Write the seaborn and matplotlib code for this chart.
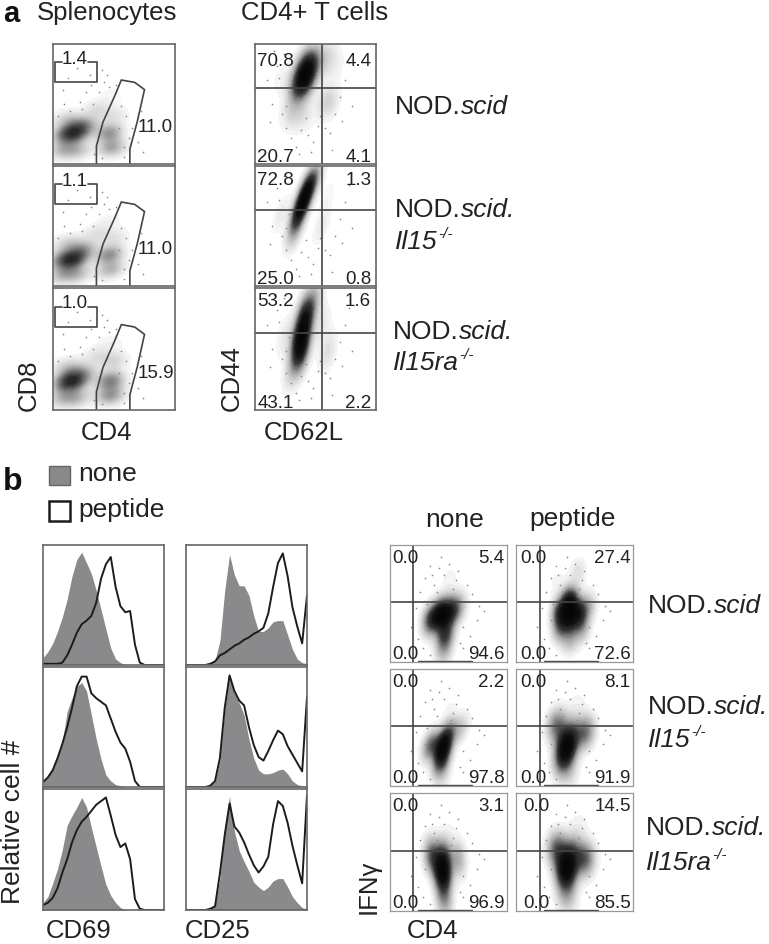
"""Flow cytometry figure: dot plots drawn as weighted KDEs, plus histograms."""
import matplotlib
matplotlib.use('Agg')
import matplotlib.pyplot as plt
from matplotlib.patches import Rectangle
import seaborn as sns

W, H = 769, 945

# histogram channel positions (percent of the panel width)
HIST_X = [0, 4, 8, 12, 16, 20, 24, 28, 32, 36, 40, 44, 48, 52, 56, 60, 64, 68, 72, 76, 80, 84, 88, 92, 96, 100]

CD69_NONE_1 = [6, 11, 18, 28, 40, 55, 74, 88, 94, 85, 76, 62, 46, 30, 14, 5, 2, 0, 0, 0, 0, 0, 0, 0, 0, 0]
CD69_PEP_1 = [1, 1, 1, 1, 2, 8, 17, 27, 34, 37, 41, 52, 72, 84, 90, 65, 49, 44, 45, 17, 2, 0, 0, 0, 0, 0]
CD69_NONE_2 = [4, 8, 15, 26, 38, 63, 74, 84, 87, 80, 60, 40, 23, 10, 5, 2, 1, 0, 0, 0, 0, 0, 0, 0, 0, 0]
CD69_PEP_2 = [4, 8, 14, 24, 36, 50, 66, 84, 92, 92, 78, 74, 71, 68, 57, 46, 37, 32, 21, 5, 0, 0, 0, 0, 0, 0]
CD69_NONE_3 = [6, 11, 22, 34, 50, 70, 78, 85, 93, 85, 68, 52, 36, 21, 12, 6, 2, 0, 0, 0, 0, 0, 0, 0, 0, 0]
CD69_PEP_3 = [4, 6, 10, 18, 31, 42, 56, 66, 73, 77, 82, 87, 90, 93, 78, 62, 52, 55, 42, 9, 1, 0, 0, 0, 0, 0]

CD25_NONE_1 = [0, 0, 0, 0, 0, 1, 4, 20, 62, 92, 75, 66, 66, 58, 41, 28, 28, 31, 36, 37, 37, 25, 13, 5, 2, 1]
CD25_PEP_1 = [0, 0, 0, 0, 0, 1, 3, 8, 10, 13, 16, 18, 21, 23, 26, 28, 31, 43, 65, 85, 93, 74, 48, 32, 18, 58]
CD25_NONE_2 = [0, 0, 0, 0, 0, 1, 5, 22, 65, 93, 78, 70, 60, 40, 24, 14, 11, 11, 12, 14, 15, 11, 5, 2, 1, 0]
CD25_PEP_2 = [0, 0, 0, 0, 0, 1, 5, 24, 66, 93, 80, 72, 68, 50, 35, 25, 22, 30, 39, 47, 44, 34, 27, 20, 13, 75]
CD25_NONE_3 = [0, 0, 0, 0, 0, 1, 4, 26, 68, 94, 65, 49, 40, 32, 23, 19, 16, 19, 24, 26, 26, 19, 11, 6, 2, 1]
CD25_PEP_3 = [0, 0, 0, 0, 0, 1, 3, 30, 62, 88, 69, 64, 56, 46, 37, 31, 36, 44, 71, 90, 86, 72, 53, 37, 22, 95]

# dot plot clouds: (x, y, weight) in percent of the panel
SPLEEN_1 = [(10, 24, 3), (18, 26, 5), (26, 32, 3), (8, 12, 2.2), (20, 12, 2), (14, 36, 1.6), (36, 45, 1.2), (48, 57, .4), (46, 26, 3.4), (48, 14, 3), (50, 40, 1), (18, 76, .12), (6, 38, .4)]
SPLEEN_2 = [(8, 22, 3), (17, 22, 5), (25, 30, 2.5), (8, 10, 2.2), (20, 10, 2), (14, 34, 1.6), (36, 44, 1), (47, 55, .4), (46, 26, 3.4), (47, 14, 2.4), (50, 40, 1), (18, 76, .1), (6, 36, .4)]
SPLEEN_3 = [(10, 22, 3), (17, 24, 4.5), (25, 30, 2), (8, 10, 2), (20, 10, 2), (14, 34, 1.6), (36, 44, 1), (47, 55, .5), (47, 24, 3.8), (47, 12, 3.2), (50, 40, 1.4), (18, 76, .08), (6, 36, .4)]

CD44_1 = [(41, 73, 5), (45, 84, 4), (37, 64, 3), (31, 44, 1), (60, 52, 1.2), (58, 89, .9), (65, 82, .4), (40, 40, .6), (22, 70, .3)]
CD44_2 = [(40, 71, 5), (45, 85, 3.5), (35, 57, 3), (51, 90, .6), (33, 44, 1), (55, 50, .4), (22, 60, .4), (60, 75, .2)]
CD44_3 = [(42, 78, 4), (38, 59, 5), (37, 45, 3), (49, 92, 1), (60, 48, .7), (30, 30, .6), (25, 60, .5), (55, 70, .5)]

NONE_1 = [(44, 41, 5), (35, 36, 3), (53, 44, 3), (47, 23, 3), (46, 8, 1), (60, 48, .8), (51, 71, .3)]
PEPTIDE_1 = [(46, 52, 4), (38, 42, 3), (54, 42, 3), (38, 28, 1.5), (56, 28, 1.2), (62, 48, 1), (53, 77, .6), (35, 68, .25), (46, 18, 1), (46, 36, 3)]
NONE_2 = [(45, 33, 5), (44, 20, 2.5), (60, 49, 1), (35, 35, 2.5), (45, 6, .5), (51, 69, .15), (50, 46, 2)]
PEPTIDE_2 = [(43, 33, 5), (35, 52, 2.5), (59, 46, 2.5), (40, 20, 2), (46, 9, .6), (52, 69, .3), (47, 45, 2)]
NONE_3 = [(45, 33, 5), (36, 47, 2.5), (58, 44, 1.5), (46, 13, 1.5), (51, 70, .14), (46, 48, 2), (47, 4, .5)]
PEPTIDE_3 = [(43, 36, 5), (35, 53, 2.5), (59, 44, 2.5), (43, 19, 1.5), (44.5, 5, .5), (54, 72, .3), (48, 50, 2)]

SPLEEN_STRAY_X = [4, 9, 14, 22, 27, 31, 33, 38, 42, 44, 52, 56, 60, 62, 65, 70, 74, 30, 40, 46, 54, 58, 24, 12, 20, 34, 40, 58, 72, 8]
SPLEEN_STRAY_Y = [40, 50, 44, 52, 60, 66, 50, 60, 68, 74, 66, 48, 40, 22, 30, 18, 10, 74, 78, 64, 30, 14, 46, 72, 80, 8, 5, 6, 44, 62]
CD44_STRAY_X = [10, 14, 18, 22, 26, 28, 30, 34, 38, 44, 48, 52, 58, 62, 66, 70, 74, 78, 12, 20, 26, 36, 46, 64, 72, 80, 16, 24, 54, 42]
CD44_STRAY_Y = [70, 50, 82, 42, 30, 60, 22, 14, 28, 24, 18, 32, 30, 26, 42, 56, 70, 84, 35, 72, 48, 8, 10, 12, 36, 48, 94, 92, 40, 38]
DOT_STRAY_X = [18, 22, 24, 26, 28, 30, 32, 34, 38, 42, 46, 50, 54, 58, 60, 62, 66, 68, 70, 74, 76, 80, 34, 40, 44, 52, 56, 62, 30, 36]
DOT_STRAY_Y = [30, 46, 20, 60, 12, 72, 50, 6, 66, 80, 74, 84, 62, 78, 16, 30, 66, 22, 58, 36, 48, 44, 82, 60, 90, 56, 70, 12, 36, 74]

SPLEEN_TOP = ['1.4', '1.1', '1.0']
SPLEEN_GATE = ['11.0', '11.0', '15.9']
CD44_LABELS = [['70.8', '4.4', '20.7', '4.1'], ['72.8', '1.3', '25.0', '0.8'], ['53.2', '1.6', '43.1', '2.2']]
NONE_LABELS = [['0.0', '5.4', '0.0', '94.6'], ['0.0', '2.2', '0.0', '97.8'], ['0.0', '3.1', '0.0', '96.9']]
PEPTIDE_LABELS = [['0.0', '27.4', '0.0', '72.6'], ['0.0', '8.1', '0.0', '91.9'], ['0.0', '14.5', '0.0', '85.5']]

BOX_X = [7, 1.4, 1.4, 36, 36, 29]
BOX_Y = [84.7, 84.7, 68, 68, 84.7, 84.7]
GATE_X = [35.6, 35.6, 41, 50.7, 56, 67, 75, 69, 63, 63]
GATE_Y = [0, 15, 35, 57, 70, 68, 62, 35, 12.5, 0]

sns.set_theme(style='white')
plt.rcParams['font.family'] = ['Liberation Sans', 'DejaVu Sans']

TEXT = '#222222'
LINE = '#444444'
dark_cmap = sns.blend_palette(['#f8f8f8', '#a6a6a6', '#3a3a3a', '#101010', '#050505'], as_cmap=True)
soft_cmap = sns.blend_palette(['#f8f8f8', '#c4c4c4', '#858585', '#4c4c4c', '#222222'], as_cmap=True)

fig = plt.figure(figsize=(W / 100, H / 100), dpi=100, facecolor='white')


def panel(left, top, right, bottom, edge='#666666', lw=1.2):
    ax = fig.add_axes([left / W, 1 - bottom / H, (right - left) / W, (bottom - top) / H])
    ax.set_xlim(0, 100)
    ax.set_ylim(0, 100)
    ax.set_xticks([])
    ax.set_yticks([])
    for spine in ax.spines.values():
        spine.set_visible(True)
        spine.set_color(edge)
        spine.set_linewidth(lw)
    return ax


def label(x, y, s, size=18.5, **kw):
    kw.setdefault('ha', 'left')
    kw.setdefault('va', 'center')
    fig.text(x / W, 1 - y / H, s, fontsize=size, color=TEXT, **kw)


def strain(x, y, name=None, sup='-/-', wide=0):
    # first line "NOD.scid" or second line like "Il15" with a small superscript
    if name is None:
        label(x, y, 'NOD.', size=19)
        label(x + 66, y, 'scid' + sup, size=19, style='italic')
    else:
        label(x, y, name, size=19, style='italic')
        label(x + wide, y - 8, sup, size=11, style='italic')


def cloud(ax, points, stray_x, stray_y, bw, cmap):
    xs = [p[0] for p in points]
    ys = [p[1] for p in points]
    ws = [p[2] for p in points]
    sns.kdeplot(x=xs, y=ys, weights=ws, fill=True, levels=36, thresh=0.025, cmap=cmap,
                bw_adjust=bw, gridsize=140, clip=((0, 100), (0, 100)), antialiased=False, ax=ax)
    sns.scatterplot(x=stray_x, y=stray_y, s=1.5, color='#8a8a8a', linewidth=0, ax=ax)
    ax.set_xlim(0, 100)
    ax.set_ylim(0, 100)
    ax.set_xlabel('')
    ax.set_ylabel('')


def quadrants(ax, vx, hy, texts, left=2, right=96, top=88, low=6):
    ax.axvline(vx, color=LINE, lw=1.2)
    ax.axhline(hy, color=LINE, lw=1.2)
    ax.text(left, top, texts[0], ha='left', va='center', fontsize=13.5, color=TEXT)
    ax.text(right, top, texts[1], ha='right', va='center', fontsize=13.5, color=TEXT)
    ax.text(left, low, texts[2], ha='left', va='center', fontsize=13.5, color=TEXT)
    ax.text(right, low, texts[3], ha='right', va='center', fontsize=13.5, color=TEXT)


# panel a, left column
rows_a = [(45, 165), (167, 287), (289, 411)]
spleen = [SPLEEN_1, SPLEEN_2, SPLEEN_3]
for i, (top, bottom) in enumerate(rows_a):
    ax = panel(53, top, 175, bottom)
    cloud(ax, spleen[i], SPLEEN_STRAY_X, SPLEEN_STRAY_Y, 0.68, soft_cmap)
    sns.lineplot(x=BOX_X, y=BOX_Y, sort=False, estimator=None, color=LINE, lw=1.2, ax=ax)
    sns.lineplot(x=GATE_X, y=GATE_Y, sort=False, estimator=None, color=LINE, lw=1.2, ax=ax)
    ax.text(18, 88, SPLEEN_TOP[i], ha='center', va='center', fontsize=13.5, color=TEXT)
    ax.text(84, 31, SPLEEN_GATE[i], ha='center', va='center', fontsize=13.5, color=TEXT)
    ax.set_xlim(0, 100)
    ax.set_ylim(0, 100)

# panel a, right column
cd44 = [CD44_1, CD44_2, CD44_3]
for i, (top, bottom) in enumerate(rows_a):
    ax = panel(255, top, 376, bottom)
    cloud(ax, cd44[i], CD44_STRAY_X, CD44_STRAY_Y, 0.85, dark_cmap)
    quadrants(ax, 55.7, 63, CD44_LABELS[i], top=[86, 89, 90][i])

# panel b, histograms
rows_h = [(546, 666), (668, 788), (790, 911)]
hist_none = [CD69_NONE_1, CD69_NONE_2, CD69_NONE_3, CD25_NONE_1, CD25_NONE_2, CD25_NONE_3]
hist_pep = [CD69_PEP_1, CD69_PEP_2, CD69_PEP_3, CD25_PEP_1, CD25_PEP_2, CD25_PEP_3]
for c, (left, right) in enumerate([(43, 164), (186, 307)]):
    for i, (top, bottom) in enumerate(rows_h):
        ax = panel(left, top, right, bottom)
        none = hist_none[c * 3 + i]
        pep = hist_pep[c * 3 + i]
        ax.fill_between(HIST_X, none, color='#8a8a8c', lw=0)
        sns.lineplot(x=HIST_X, y=pep, color='#1c1c1c', lw=1.4, ax=ax)
        ax.set_xlim(0, 100)
        ax.set_ylim(0, 100)
        ax.set_xlabel('')
        ax.set_ylabel('')

# panel b, dot plots
rows_d = [(546, 663), (670, 787), (794, 912)]
b_none = [NONE_1, NONE_2, NONE_3]
b_pep = [PEPTIDE_1, PEPTIDE_2, PEPTIDE_3]
for i, (top, bottom) in enumerate(rows_d):
    ax = panel(390, top, 507, bottom, edge='#999999', lw=0.9)
    cloud(ax, b_none[i], DOT_STRAY_X, DOT_STRAY_Y, 0.9, dark_cmap)
    quadrants(ax, 20, 51, NONE_LABELS[i], right=98, top=89, low=7)
    ax.plot([24, 70], [0.5, 0.5], color=LINE, lw=1.0)

    ax = panel(516, top, 633, bottom, edge='#999999', lw=0.9)
    cloud(ax, b_pep[i], DOT_STRAY_X, DOT_STRAY_Y, 0.9, dark_cmap)
    quadrants(ax, 20.5, 51, PEPTIDE_LABELS[i], left=[3.4, 3.4, 6][i], right=98, top=89, low=7)
    ax.plot([24, 70], [0.5, 0.5], color=LINE, lw=1.0)

# legend swatches
fig.add_artist(Rectangle((49 / W, 1 - 486 / H), 21 / W, 19 / H, transform=fig.transFigure,
                         facecolor='#8a8a8c', edgecolor='#666666', lw=1))
fig.add_artist(Rectangle((49 / W, 1 - 522 / H), 21 / W, 20 / H, transform=fig.transFigure,
                         facecolor='white', edgecolor='#1c1c1c', lw=1.8))

fig.text(3 / W, 1 - 22 / H, 'a', fontsize=21, fontweight='bold', color='#111111', ha='left', va='baseline')
fig.text(3 / W, 1 - 490 / H, 'b', fontsize=23, fontweight='bold', color='#111111', ha='left', va='baseline')
label(37, 13, 'Splenocytes')
label(241, 13, 'CD4+ T cells')
label(29, 385, 'CD8', rotation=90, ha='center')
label(232, 378, 'CD44', rotation=90, ha='center')
label(107, 433, 'CD4', ha='center')
label(304, 433, 'CD62L', ha='center')

strain(395, 107, sup='')
strain(395, 210, sup='.')
strain(395, 242, 'Il15', wide=43)
strain(393, 332, sup='.')
strain(393, 363, 'Il15ra', wide=66)

label(78, 474, 'none', size=19)
label(78, 510, 'peptide', size=19)
label(13, 822, 'Relative cell #', size=19, rotation=90, ha='center')
label(79, 931, 'CD69', ha='center')
label(218, 931, 'CD25', ha='center')

label(455, 520, 'none', ha='center', size=19)
label(573, 519, 'peptide', ha='center', size=19)
strain(648, 606, sup='')
strain(648, 707, sup='.')
strain(648, 740, 'Il15', wide=43)
strain(646, 828, sup='.')
strain(646, 863, 'Il15ra', wide=66)
label(369, 887, 'IFNγ', rotation=90, ha='center')
label(433, 931, 'CD4', ha='center')

fig.savefig('out.png', dpi=100, facecolor='white')
plt.close(fig)
